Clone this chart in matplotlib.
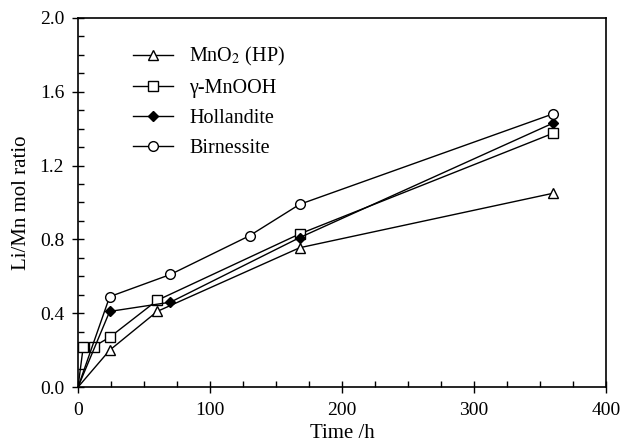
import numpy as np
import matplotlib
matplotlib.use('Agg')
import matplotlib.pyplot as plt
from matplotlib.ticker import MultipleLocator

plt.rcParams['font.family'] = ['Liberation Serif', 'DejaVu Serif']
plt.rcParams['mathtext.fontset'] = 'stix'

# data
t_hp = [0, 24, 60, 168, 360]
y_hp = [0.0, 0.20, 0.41, 0.755, 1.05]

t_mnooh = [0, 4, 12, 24, 60, 168, 360]
y_mnooh = [0.0, 0.22, 0.22, 0.27, 0.47, 0.83, 1.375]

t_holl = [0, 24, 70, 168, 360]
y_holl = [0.0, 0.41, 0.46, 0.81, 1.43]

t_birn = [0, 24, 70, 130, 168, 360]
y_birn = [0.0, 0.49, 0.61, 0.82, 0.99, 1.48]

labels = ['MnO$_2$ (HP)', 'γ-MnOOH', 'Hollandite', 'Birnessite']

fig = plt.figure(figsize=(6.24, 4.46), dpi=100)
ax = fig.add_axes([0.125, 0.132, 0.846, 0.828])

kw = dict(color='black', lw=1.0, mec='black', mew=1.0)
ax.plot(t_hp, y_hp, marker='^', ms=7.5, mfc='white', label=labels[0], markevery=list(range(1, len(t_hp))), **kw)
ax.plot(t_mnooh, y_mnooh, marker='s', ms=7.5, mfc='white', label=labels[1], markevery=list(range(1, len(t_mnooh))), **kw)
ax.plot(t_holl, y_holl, marker='D', ms=5.5, mfc='black', label=labels[2], markevery=list(range(1, len(t_holl))), **kw)
ax.plot(t_birn, y_birn, marker='o', ms=7, mfc='white', label=labels[3], markevery=list(range(1, len(t_birn))), **kw)

ax.set_xlim(0, 400)
ax.set_ylim(0, 2.0)
ax.xaxis.set_major_locator(MultipleLocator(100))
ax.xaxis.set_minor_locator(MultipleLocator(25))
ax.yaxis.set_major_locator(MultipleLocator(0.4))
ax.yaxis.set_minor_locator(MultipleLocator(0.1))
ax.yaxis.set_major_formatter(matplotlib.ticker.FormatStrFormatter('%.1f'))
ax.tick_params(which='major', direction='inout', length=8, width=1, labelsize=14)
ax.tick_params(axis='x', which='major', pad=7)
ax.tick_params(axis='y', which='major', pad=6)
ax.tick_params(which='minor', direction='in', length=4, width=1)
ax.tick_params(top=False, right=False)
for s in ax.spines.values():
    s.set_linewidth(1.2)

ax.set_xlabel('Time /h', fontsize=15, labelpad=3)
ax.set_ylabel('Li/Mn mol ratio', fontsize=15, labelpad=6)

leg = ax.legend(loc='upper left', bbox_to_anchor=(0.07, 0.975), frameon=False,
                fontsize=14.5, handlelength=2.0, handletextpad=0.8, labelspacing=0.54)

fig.savefig('out.png', dpi=100)
